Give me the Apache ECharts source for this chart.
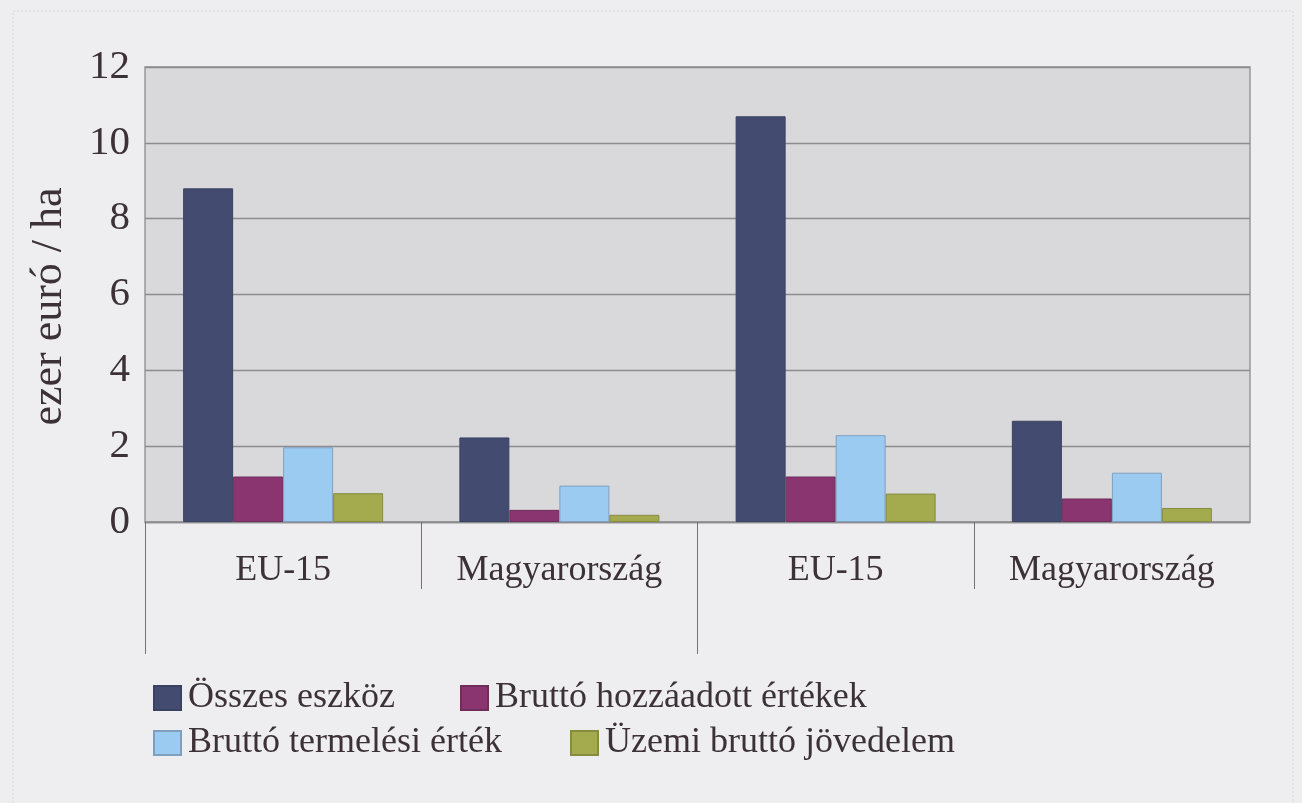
<!DOCTYPE html>
<html>
<head>
<meta charset="utf-8">
<script src="https://cdn.jsdelivr.net/npm/echarts@6/dist/echarts.min.js"></script>
<style>
html,body{margin:0;padding:0;background:#eeeef1;}
#chart{width:1302px;height:803px;}
</style>
</head>
<body>
<div id="chart"></div>
<script>
// ---- data ----
const categories = ['EU-15', 'Magyarország', 'EU-15', 'Magyarország'];
const seriesNames = ['Összes eszköz', 'Bruttó hozzáadott értékek', 'Bruttó termelési érték', 'Üzemi bruttó jövedelem'];
const osszesEszkoz = [8.8, 2.23, 10.7, 2.67];
const bruttoHozzaadott = [1.2, 0.32, 1.2, 0.62];
const bruttoTermelesi = [1.97, 0.96, 2.29, 1.3];
const uzemiBrutto = [0.76, 0.19, 0.75, 0.37];
const yTicks = [0, 2, 4, 6, 8, 10, 12];
const yAxisName = 'ezer euró / ha';

const seriesValues = [osszesEszkoz, bruttoHozzaadott, bruttoTermelesi, uzemiBrutto];
const colors = ['#434c70', '#8b3570', '#9ccbf1', '#a3ab4e'];
const borders = ['#3a4262', '#6f2d5a', '#7f9fbf', '#858c3e'];
const font = 'Liberation Serif';
const textColor = '#3b3136';
const gridColor = '#8d8d90';

const chart = echarts.init(document.getElementById('chart'), null, {renderer: 'canvas'});

const legendLeft = [148, 455, 148, 565];
const legendTop = [675, 675, 720, 720];

const option = {
  backgroundColor: '#eeeef1',
  animation: false,
  graphic: [{
    type: 'rect',
    shape: {x: 13, y: 11, width: 1280, height: 820},
    style: {fill: 'none', stroke: '#d6d6da', lineWidth: 1, lineDash: [2, 2]},
    silent: true
  }],
  grid: {
    left: 145, right: 52, top: 67, bottom: 281,
    show: true, backgroundColor: '#d9d9dc',
    borderColor: gridColor, borderWidth: 1.3
  },
  legend: seriesNames.map((n, i) => ({
    data: [n],
    left: legendLeft[i], top: legendTop[i],
    itemWidth: 27, itemHeight: 24,
    icon: 'rect',
    textStyle: {fontFamily: font, fontSize: 36, color: textColor, padding: [0, 0, 0, 2]},
    selectedMode: false
  })),
  xAxis: [
    {
      type: 'category', data: categories,
      axisLine: {show: true, lineStyle: {color: gridColor, width: 1.3}},
      axisTick: {show: false},
      axisLabel: {fontFamily: font, fontSize: 36, color: textColor, margin: 31}
    },
    {
      type: 'value', min: 0, max: 4, position: 'bottom', offset: 0,
      axisLine: {show: false}, splitLine: {show: false},
      axisLabel: {show: false},
      axisTick: {show: true, customValues: [1, 3], length: 67, lineStyle: {color: '#7a6f73', width: 1}}
    },
    {
      type: 'value', min: 0, max: 4, position: 'bottom', offset: 0,
      axisLine: {show: false}, splitLine: {show: false},
      axisLabel: {show: false},
      axisTick: {show: true, customValues: [0, 2], length: 132, lineStyle: {color: '#7a6f73', width: 1}}
    }
  ],
  yAxis: {
    type: 'value', min: yTicks[0], max: yTicks[yTicks.length - 1], interval: yTicks[1] - yTicks[0],
    name: yAxisName, nameLocation: 'middle', nameGap: 74,
    nameTextStyle: {fontFamily: font, fontSize: 44, color: textColor, padding: [0, 24, 0, 0]},
    axisLine: {show: false}, axisTick: {show: false},
    axisLabel: {fontFamily: font, fontSize: 41, color: textColor, margin: 15},
    splitLine: {lineStyle: {color: gridColor, width: 1.3}}
  },
  series: seriesNames.map((n, i) => ({
    name: n, type: 'bar', xAxisIndex: 0,
    data: seriesValues[i],
    barWidth: 50, barGap: '0%',
    itemStyle: {color: colors[i], borderColor: borders[i], borderWidth: 1}
  }))
};
chart.setOption(option);
</script>
</body>
</html>
